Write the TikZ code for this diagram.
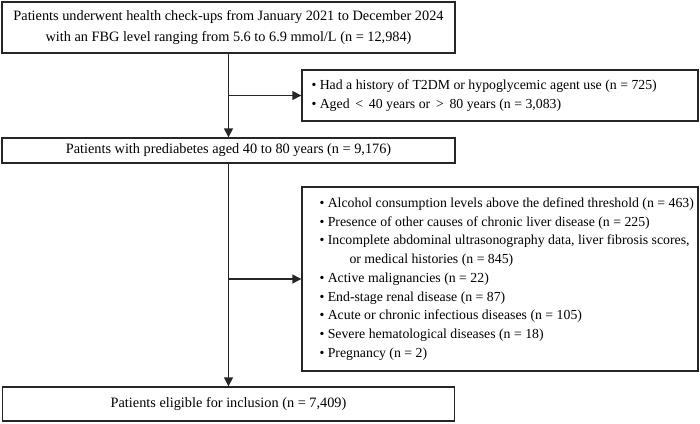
\documentclass[tikz,border=0pt]{standalone}
\usepackage{fontspec}
\setmainfont{Liberation Serif}
\usepackage{tikz}
\usetikzlibrary{arrows.meta}

\tikzset{
    flowbox/.style={draw=black!85, line width=1.4pt, rectangle, inner sep=0pt},
    boxtext/.style={align=center, font=\fontsize{14.3}{20.5}\selectfont},
    listtext/.style={align=left, anchor=west, inner sep=0pt, font=\fontsize{13.8}{18.7}\selectfont},
    flowline/.style={draw=black!85, line width=1.4pt},
    flowarrow/.style={flowline, -{Triangle[length=9pt,width=9pt]}}
}

\begin{document}
\begin{tikzpicture}[
    x=1pt, y=1pt, yscale=-1, xscale=1
]
\useasboundingbox (0,0) rectangle (700,423);

%==================== Main boxes ====================
\node [flowbox, boxtext, minimum width=453, minimum height=51] (screened) at (228.5,27.5)
    {Patients underwent health check-ups from January 2021 to December 2024\\
     with an FBG level ranging from 5.6 to 6.9 mmol/L (n = 12,984)};
\node [flowbox, boxtext, minimum width=453, minimum height=25] (prediab) at (228.5,150.5)
    {Patients with prediabetes aged 40 to 80 years (n = 9,176)};
\node [flowbox, boxtext, minimum width=452, minimum height=34] (eligible) at (228.5,404)
    {Patients eligible for inclusion (n = 7,409)};

%==================== Exclusion boxes ====================
\node [flowbox, minimum width=396, minimum height=51] (excl1) at (500,95.5) {};
\node [listtext] (excl1txt) at ([xshift=10pt]excl1.west)
    {\textbullet\ Had a history of T2DM or hypoglycemic agent use (n = 725)\\
     \textbullet\ Aged \,<\, 40 years or \,>\, 80 years (n = 3,083)};

\node [flowbox, minimum width=396, minimum height=184] (excl2) at (500,279) {};
\node [listtext] (excl2txt) at ([xshift=18pt]excl2.west)
    {\textbullet\ Alcohol consumption levels above the defined threshold (n = 463)\\
     \textbullet\ Presence of other causes of chronic liver disease (n = 225)\\
     \textbullet\ Incomplete abdominal ultrasonography data, liver fibrosis scores,\\
     \hspace*{30pt}or medical histories (n = 845)\\
     \textbullet\ Active malignancies (n = 22)\\
     \textbullet\ End-stage renal disease (n = 87)\\
     \textbullet\ Acute or chronic infectious diseases (n = 105)\\
     \textbullet\ Severe hematological diseases (n = 18)\\
     \textbullet\ Pregnancy (n = 2)};

%==================== Connectors ====================
\coordinate (split1) at (screened.south |- excl1.west);
\coordinate (split2) at (prediab.south |- excl2.west);

\draw [flowarrow] (screened.south) -- (prediab.north);
\draw [flowarrow] (split1) -- (excl1.west);
\draw [flowarrow] (prediab.south) -- (eligible.north);
\draw [flowarrow] (split2) -- (excl2.west);

\end{tikzpicture}
\end{document}
